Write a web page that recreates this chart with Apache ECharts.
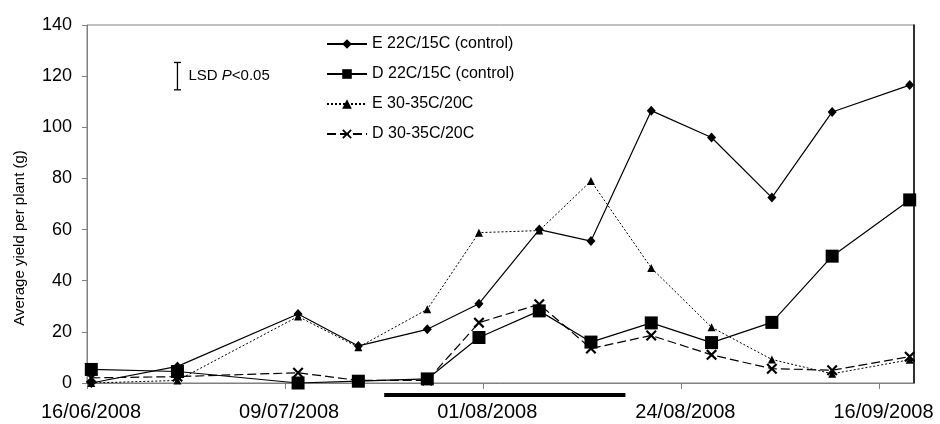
<!DOCTYPE html>
<html>
<head>
<meta charset="utf-8">
<title>Average yield per plant</title>
<script src="https://cdn.jsdelivr.net/npm/echarts@6/dist/echarts.min.js"></script>
<style>
  html, body { margin: 0; padding: 0; background: #fff; }
  #chart { width: 940px; height: 424px; }
</style>
</head>
<body>
<div id="chart"></div>
<script>
// Harvest dates (dd/mm/yyyy) and average yield per plant (g) for each treatment
const startDate = '16/06/2008';
const sampleDates = ['16/06/2008', '26/06/2008', '10/07/2008', '17/07/2008', '25/07/2008',
  '31/07/2008', '07/08/2008', '13/08/2008', '20/08/2008', '27/08/2008',
  '03/09/2008', '10/09/2008', '19/09/2008'];
const seriesNames = ['E 22C/15C (control)', 'D 22C/15C (control)', 'E 30-35C/20C', 'D 30-35C/20C'];
const eControl = [0, 6.5, 27, 14.5, 21, 31, 60, 55.5, 106.5, 96, 72.5, 106, 116.5];
const dControl = [5.3, 4.5, 0, 0.7, 1.6, 17.8, 28.2, 16, 23.5, 15.8, 23.7, 49.6, 71.6];
const eHeat = [0, 1, 26, 14, 28.8, 58.8, 59.6, 79, 45, 21.8, 9.2, 3.6, 9.1];
const dHeat = [2, 2.5, 4, 1, 1, 23.6, 30.8, 13.5, 18.6, 11, 5.6, 5, 10.3];

// High-temperature period shown as a bar under the date axis
const heatPeriod = ['20/07/2008', '17/08/2008'];
// Least significant difference bar
const lsdDate = '26/06/2008';
const lsdCentre = 120;
const lsdValue = 10.7;

// Axis ticks
const xTickLabels = ['16/06/2008', '09/07/2008', '01/08/2008', '24/08/2008', '16/09/2008'];
const xTickStepDays = 23;
const xSpanDays = 96;
const yMin = 0, yMax = 140, yStep = 20;

const FONT = '"Liberation Sans", Arial, sans-serif';

function dayOf(s) {
  const p = s.split('/').map(Number);
  const q = startDate.split('/').map(Number);
  return Math.round((Date.UTC(p[2], p[1] - 1, p[0]) - Date.UTC(q[2], q[1] - 1, q[0])) / 86400000);
}
// points sit at the middle of their day
const xs = sampleDates.map(d => dayOf(d) + 0.5);
const pts = vals => vals.map((v, i) => [xs[i], v]);

const crossPath = 'path://M0,1.4 L1.4,0 L5,3.6 L8.6,0 L10,1.4 L6.4,5 L10,8.6 L8.6,10 L5,6.4 L1.4,10 L0,8.6 L3.6,5 Z';

const chart = echarts.init(document.getElementById('chart'), null, { renderer: 'canvas' });

chart.setOption({
  animation: false,
  backgroundColor: '#fff',
  grid: {
    left: 87, right: 26, top: 25, bottom: 41,
    show: true, borderColor: '#808080', borderWidth: 1, backgroundColor: 'transparent'
  },
  legend: {
    data: seriesNames,
    orient: 'vertical',
    left: 321, top: 31,
    itemWidth: 40, itemHeight: 12, itemGap: 14,
    textStyle: { fontFamily: FONT, fontSize: 16, color: '#000' },
    selectedMode: false
  },
  graphic: [{
    type: 'text',
    x: 20, y: 238,
    rotation: Math.PI / 2,
    style: {
      text: 'Average yield per plant (g)',
      fontFamily: FONT, fontSize: 15, fill: '#000',
      align: 'center', verticalAlign: 'middle',
      textAlign: 'center', textVerticalAlign: 'middle'
    }
  }],
  xAxis: {
    type: 'value',
    min: 0, max: xSpanDays, interval: xTickStepDays,
    splitLine: { show: false },
    axisLine: { lineStyle: { color: '#808080', width: 1 } },
    axisTick: { show: true, length: 6, lineStyle: { color: '#808080' } },
    axisLabel: {
      showMaxLabel: false,
      margin: 19,
      padding: [0, 0, 0, 8],
      fontFamily: FONT, fontSize: 20, color: '#000',
      formatter: v => (v % xTickStepDays === 0 ? (xTickLabels[v / xTickStepDays] || '') : '')
    }
  },
  yAxis: [{
    type: 'value',
    min: yMin, max: yMax, interval: yStep,
    splitLine: { show: false },
    axisLine: { show: true, lineStyle: { color: '#808080', width: 1 } },
    axisTick: { show: true, length: 5, lineStyle: { color: '#808080' } },
    axisLabel: { margin: 15, fontFamily: FONT, fontSize: 18, color: '#000' }
  }, {
    type: 'value', position: 'right',
    min: yMin, max: yMax, interval: yStep,
    splitLine: { show: false },
    axisLine: { show: true, lineStyle: { color: '#000', width: 1.5 } },
    axisTick: { show: false },
    axisLabel: { show: false }
  }],
  series: [
    {
      name: seriesNames[2], type: 'line', data: pts(eHeat),
      symbol: 'triangle', symbolSize: 8,
      lineStyle: { color: '#000', width: 1, type: [2, 2] },
      itemStyle: { color: '#000' }, z: 2
    },
    {
      name: seriesNames[3], type: 'line', data: pts(dHeat),
      symbol: crossPath, symbolSize: 11,
      lineStyle: { color: '#000', width: 1.2, type: [9, 4] },
      itemStyle: { color: '#000' }, z: 3
    },
    {
      name: seriesNames[0], type: 'line', data: pts(eControl),
      symbol: 'diamond', symbolSize: [9, 10],
      lineStyle: { color: '#000', width: 1.2 },
      itemStyle: { color: '#000' }, z: 4
    },
    {
      name: seriesNames[1], type: 'line', data: pts(dControl),
      symbol: 'rect', symbolSize: 13,
      lineStyle: { color: '#000', width: 1.2 },
      itemStyle: { color: '#000' }, z: 5
    },
    {
      // heat period bar beneath the date axis
      type: 'custom', silent: true, clip: false,
      data: [[dayOf(heatPeriod[0]) + 0.5, dayOf(heatPeriod[1]) + 0.5, 0]],
      encode: { x: [0, 1], y: 2 },
      renderItem: (params, api) => {
        const a = api.coord([api.value(0), 0]);
        const b = api.coord([api.value(1), 0]);
        return {
          type: 'rect',
          shape: { x: a[0], y: a[1] + 10, width: b[0] - a[0], height: 4 },
          style: { fill: '#000' }
        };
      }
    },
    {
      // LSD error bar with its caption
      type: 'custom', silent: true, clip: false,
      data: [[dayOf(lsdDate) + 0.5, lsdCentre, lsdValue]],
      encode: { x: 0, y: 1 },
      renderItem: (params, api) => {
        const x = api.value(0), c = api.value(1), h = api.value(2) / 2;
        const top = api.coord([x, c + h]);
        const bot = api.coord([x, c - h]);
        const mid = api.coord([x, c]);
        const line = { stroke: '#000', lineWidth: 1.3 };
        return {
          type: 'group',
          children: [
            { type: 'line', shape: { x1: top[0], y1: top[1], x2: bot[0], y2: bot[1] }, style: line },
            { type: 'line', shape: { x1: top[0] - 3.5, y1: top[1], x2: top[0] + 3.5, y2: top[1] }, style: line },
            { type: 'line', shape: { x1: bot[0] - 3.5, y1: bot[1], x2: bot[0] + 3.5, y2: bot[1] }, style: line },
            {
              type: 'text',
              x: mid[0] + 11, y: mid[1],
              style: {
                text: '{n|LSD }{i|P}{n|<0.05}',
                verticalAlign: 'middle', align: 'left',
                rich: {
                  n: { fontFamily: FONT, fontSize: 15, fill: '#000' },
                  i: { fontFamily: FONT, fontSize: 15, fontStyle: 'italic', fill: '#000' }
                }
              }
            }
          ]
        };
      }
    }
  ]
});
</script>
</body>
</html>
